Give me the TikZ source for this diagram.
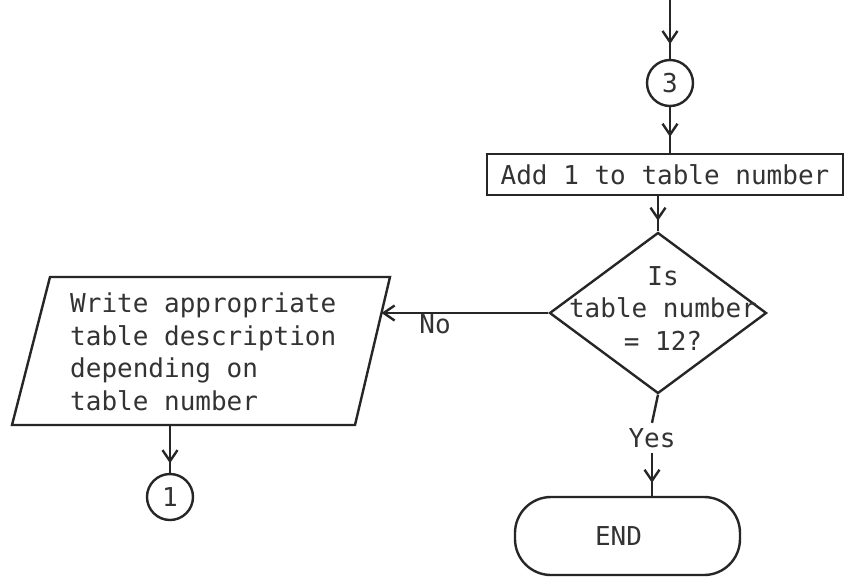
\documentclass[tikz,border=0pt]{standalone}
\usepackage{fontspec}
\setmonofont{DejaVu Sans Mono}
\usetikzlibrary{shapes.geometric,arrows.meta,decorations.markings}
\begin{document}
\begin{tikzpicture}[x=1pt,y=-1pt,
  font=\ttfamily\fontsize{26}{32.5}\selectfont,
  every node/.style={text=black!80},
  ln/.style={line width=2.4pt, draw=black!85},
  tip/.style={-{Straight Barb[length=11pt,width=15pt]}},
  midhead/.style={postaction={decorate}, decoration={markings, mark=at position #1 with {\arrow{Straight Barb[length=11pt,width=15pt]}}}},
  conn/.style={circle, ln, minimum size=46pt, inner sep=0pt},
  procbox/.style={rectangle, ln, minimum width=356pt, minimum height=41pt, inner sep=0pt},
  decide/.style={diamond, ln, minimum width=217pt, minimum height=161pt, inner sep=0pt},
  term/.style={rectangle, rounded corners=36pt, ln, minimum width=225pt, minimum height=78pt, inner sep=0pt},
  lbl/.style={inner sep=0pt}
]
\useasboundingbox (0,0) rectangle (847,579);
\fill[white] (0,0) rectangle (847,579);

% nodes
\coordinate (top) at (670,0);
\node[conn] (c3) at (670,83) {3};
\node[procbox] (add) at (665,174.5) {Add 1 to table number};
\node[decide] (dia) at (658,313) {};
\node[lbl, align=center, anchor=base] (diatxt) at (663,350) {Is\\table number\\= 12?};
\node[lbl, inner sep=5pt, anchor=base] (yes) at (652,447) {Yes};
\node[term] (end) at (627.5,536) {\hspace*{-18pt}END};

% parallelogram (input/output)
\coordinate (p1) at (50,277);
\coordinate (p2) at (390,277);
\coordinate (p3) at (355,425);
\coordinate (p4) at (12,425);
\draw[ln] (p1) -- (p2) -- (p3) -- (p4) -- cycle;
\node[lbl, align=left, anchor=base west] (wtxt) at (70,410) {Write appropriate\\table description\\depending on\\table number};
\coordinate (pin) at (381.5,313);
\coordinate (pout) at (170,425);
\node[conn] (c1) at (170,497) {1};
\node[lbl] (no) at (435,324) {No};

% connectors
\draw[ln, midhead=0.75] (top) -- (c3.north);
\draw[ln, midhead=0.65] (c3.south) -- (c3.south |- add.north);
\draw[ln, midhead=0.7] (dia.north |- add.south) -- (dia.north);
\draw[ln, tip] (dia.west) -- (pin);
\draw[ln, midhead=0.8] (pout) -- (c1.north);
\draw[ln] (dia.south) -- (yes.north);
\draw[ln, midhead=0.7] (yes.south) -- (yes.south |- end.north);
\end{tikzpicture}
\end{document}
